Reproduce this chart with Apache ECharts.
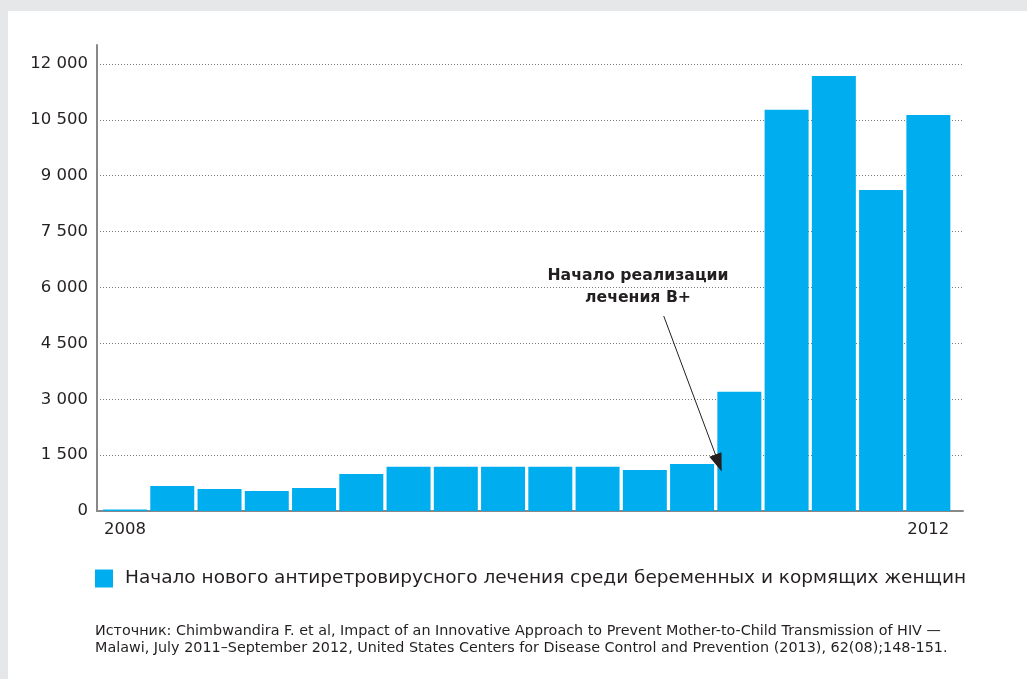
<!DOCTYPE html>
<html>
<head>
<meta charset="utf-8">
<style>
html,body{margin:0;padding:0;background:#e6e7e8;}
#panel{position:absolute;left:8px;top:11px;width:1019px;height:668px;background:#fff;}
#chart{position:absolute;left:0;top:0;width:1027px;height:679px;}
</style>
<script src="https://cdn.jsdelivr.net/npm/echarts@6/dist/echarts.min.js"></script>
</head>
<body>
<div id="panel"></div>
<div id="chart"></div>
<script>
// Data
const xLabels = ["2008","","","","","","","","","","","","","","","","","2012"];
const values = [40, 670, 590, 537, 617, 995, 1185, 1185, 1185, 1185, 1185, 1100, 1262, 3200, 10770, 11680, 8620, 10630];
const yTicks = [0, 1500, 3000, 4500, 6000, 7500, 9000, 10500, 12000];
const seriesName = "Начало нового антиретровирусного лечения среди беременных и кормящих женщин";
const annotation = ["Начало реализации", "лечения B+"];
const sourceLines = [
  "Источник: Chimbwandira F. et al, Impact of an Innovative Approach to Prevent Mother-to-Child Transmission of HIV —",
  "Malawi, July 2011–September 2012, United States Centers for Disease Control and Prevention (2013), 62(08);148-151."
];
// annotation arrow in data space: [category index, value]
const arrowFrom = [11.4, 5235];
const arrowTo = [12.56, 1290];

const FONT = "'DejaVu Sans', 'Liberation Sans', Arial, sans-serif";
const chart = echarts.init(document.getElementById('chart'), null, {renderer: 'canvas'});

function fmtNum(v){
  return String(v).replace(/\B(?=(\d{3})+(?!\d))/g, ' ');
}

chart.setOption({
  backgroundColor: 'transparent',
  animation: false,
  textStyle: {fontFamily: FONT},
  grid: {left: 97, right: 64, top: 45, bottom: 168, containLabel: false},
  legend: {
    left: 95, top: 569, padding: 0,
    icon: 'rect', itemWidth: 18, itemHeight: 18,
    textStyle: {fontSize: 18.5, color: '#231f20', fontFamily: FONT, padding: [0,0,0,7]},
    data: [seriesName]
  },
  xAxis: {
    type: 'value',
    min: -0.593, max: 17.733,
    axisLine: {show: true, onZero: false, lineStyle: {color: '#888', width: 2}},
    axisTick: {show: false},
    splitLine: {show: false},
    axisLabel: {
      customValues: [0, 17],
      formatter: v => xLabels[Math.round(v)] || '',
      fontSize: 16.5, color: '#231f20', margin: 10, fontFamily: FONT
    }
  },
  yAxis: {
    type: 'value',
    min: 0, max: 12510, interval: 1500,
    axisLine: {show: true, onZero: false, lineStyle: {color: '#888', width: 2}},
    axisTick: {show: false},
    axisLabel: {
      showMaxLabel: false,
      formatter: v => yTicks.indexOf(v) >= 0 ? fmtNum(v) : '',
      fontSize: 16.5, color: '#231f20', margin: 9, fontFamily: FONT
    },
    splitLine: {show: true, showMinLine: false, showMaxLine: false, lineStyle: {color: '#777', width: 1, type: [1, 2]}}
  },
  series: [{
    name: seriesName,
    type: 'bar',
    barWidth: 44,
    itemStyle: {color: '#00aeef'},
    data: values.map((v, i) => [i, v]),
    markLine: {
      silent: true,
      symbol: ['none', 'triangle'],
      symbolSize: [13, 18],
      lineStyle: {color: '#231f20', width: 1, type: 'solid'},
      label: {show: false},
      data: [[{coord: arrowFrom}, {coord: arrowTo}]]
    }
  }],
  graphic: [
    {type: 'text', x: 638, y: 276, style: {text: annotation[0], font: "bold 15.7px " + FONT, fill: '#231f20', textAlign: 'center', textVerticalAlign: 'middle'}},
    {type: 'text', x: 638, y: 298, style: {text: annotation[1], font: "bold 15.7px " + FONT, fill: '#231f20', textAlign: 'center', textVerticalAlign: 'middle'}},
    {type: 'text', x: 95, y: 631, style: {text: sourceLines[0], font: "14.35px " + FONT, fill: '#231f20', textAlign: 'left', textVerticalAlign: 'middle'}},
    {type: 'text', x: 95, y: 648, style: {text: sourceLines[1], font: "14.35px " + FONT, fill: '#231f20', textAlign: 'left', textVerticalAlign: 'middle'}}
  ]
});
</script>
</body>
</html>
